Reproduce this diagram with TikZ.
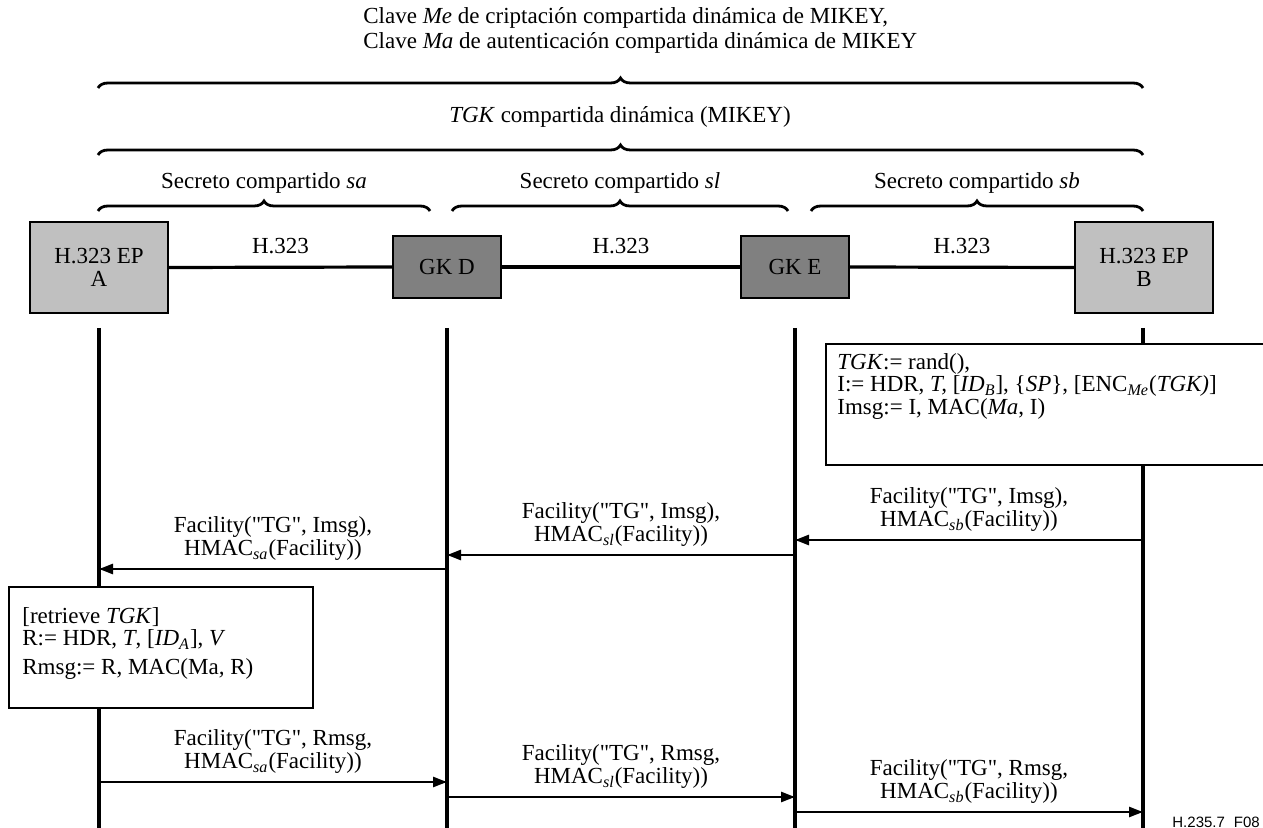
\documentclass[tikz,border=0pt]{standalone}
\usepackage{fontspec}
\setmainfont{Liberation Serif}
\newfontfamily\plainserif{Liberation Serif}
\newfontfamily\figsans{Liberation Sans}
\usetikzlibrary{decorations.pathreplacing,arrows.meta}
\definecolor{epgray}{RGB}{192,192,192}
\definecolor{gkgray}{RGB}{128,128,128}
\newcommand{\sub}[1]{\textsubscript{\textit{#1}}}
\newcommand{\dq}{{\plainserif"}}
\begin{document}
\begin{tikzpicture}[x=0.5pt,y=-0.5pt,
  font=\fontsize{11.5}{11.5}\selectfont,
  ep/.style={draw, line width=1pt, fill=epgray, minimum width=69pt, minimum height=45.5pt, align=center, inner sep=0pt},
  gk/.style={draw, line width=1pt, fill=gkgray, minimum width=54pt, minimum height=31pt, inner sep=0pt},
  conn/.style={line width=1.6pt},
  life/.style={line width=1.6pt},
  msg/.style={line width=1.3pt, -{Triangle[length=7pt,width=5pt]}},
  lbl/.style={align=center, inner sep=0pt},
  br/.style={decorate, decoration={brace, amplitude=5pt}, line width=1.4pt},
  notebox/.style={draw, line width=1pt, fill=white, inner sep=0pt, anchor=north west},
  notetext/.style={align=left, inner sep=0pt, anchor=north west, font=\fontsize{11.5}{11.3}\selectfont}]
\useasboundingbox (0,0) rectangle (1263,828);
\fill[white] (0,0) rectangle (1263,828);

% top texts and braces
\node[anchor=west, align=left, inner sep=0pt, font=\fontsize{11.5}{12.5}\selectfont] (clave) at (363,30)
  {Clave \textit{Me} de criptación compartida dinámica de MIKEY,\\
   Clave \textit{Ma} de autenticación compartida dinámica de MIKEY};
\draw[br] (98,88) -- (1143,88);
\node[inner sep=0pt] (tgkt) at (620,117) {\textit{TGK} compartida dinámica (MIKEY)};
\draw[br] (98,155) -- (1143,155);
\node[inner sep=0pt] (ssa) at (264,183) {Secreto compartido \textit{sa}};
\node[inner sep=0pt] (ssl) at (620,183) {Secreto compartido \textit{sl}};
\node[inner sep=0pt] (ssb) at (977,183) {Secreto compartido \textit{sb}};
\draw[br] (98,211) -- (430,211);
\draw[br] (452,211) -- (788,211);
\draw[br] (811,211) -- (1143,211);

% entities
\node[ep] (EPA) at (99,267.5) {H.323 EP\\A};
\node[gk] (GKD) at (447,267) {GK D};
\node[gk] (GKE) at (795,267) {GK E};
\node[ep] (EPB) at (1144,267.5) {H.323 EP\\B};
\draw[conn] (EPA.east) -- (GKD.west) node[midway, above=6pt, inner sep=0pt] {H.323};
\draw[conn] (GKD.east) -- (GKE.west) node[midway, above=6pt, inner sep=0pt] {H.323};
\draw[conn] (GKE.east) -- (EPB.west) node[midway, above=6pt, inner sep=0pt] {H.323};

% lifelines
\coordinate (At) at (99,328);   \coordinate (Ab) at (99,828);
\coordinate (Dt) at (447,328);  \coordinate (Db) at (447,828);
\coordinate (Et) at (795,328);  \coordinate (Eb) at (795,828);
\coordinate (Bt) at (1143,328); \coordinate (Bb) at (1143,828);
\draw[life] (At) -- (Ab);
\draw[life] (Dt) -- (Db);
\draw[life] (Et) -- (Eb);
\draw[life] (Bt) -- (Bb);

% TGK box
\node[notebox, minimum width=225pt, minimum height=60.5pt] (tgkbox) at (825,343) {};
\node[notetext] (tgktext) at ([xshift=6pt,yshift=-5pt]tgkbox.north west)
  {\textit{TGK}:= rand(),\\
   I:= HDR, \textit{T,} [\textit{ID}\sub{B}], \{\textit{SP}\}, [ENC\sub{Me}(\textit{TGK)}]\\
   Imsg:= I, MAC(\textit{Ma}, I)};

% messages Imsg
\coordinate (B1) at (1143,540); \coordinate (E1) at (795,540);
\coordinate (E2) at (795,555);  \coordinate (D2) at (447,555);
\coordinate (D3) at (447,569);  \coordinate (A3) at (99,569);
\draw[msg] (B1) -- (E1) node[midway, lbl, above=3.5pt] {Facility(\dq TG\dq, Imsg),\\HMAC\sub{sb}(Facility))};
\draw[msg] (E2) -- (D2) node[midway, lbl, above=3.5pt] {Facility(\dq TG\dq, Imsg),\\HMAC\sub{sl}(Facility))};
\draw[msg] (D3) -- (A3) node[midway, lbl, above=3.5pt] {Facility(\dq TG\dq, Imsg),\\HMAC\sub{sa}(Facility))};

% retrieve box
\node[notebox, minimum width=152pt, minimum height=60.5pt] (retbox) at (8,586) {};
\node[notetext] (rettext) at ([xshift=7pt,yshift=-10.5pt]retbox.north west)
  {[retrieve \textit{TGK}]\\
   R:= HDR, \textit{T}, [\textit{ID}\sub{A}], \textit{V}\\[3pt]
   Rmsg:= R, MAC(Ma\textit{,} R)};

% messages Rmsg
\coordinate (A4) at (99,782);  \coordinate (D4) at (447,782);
\coordinate (D5) at (447,797); \coordinate (E5) at (795,797);
\coordinate (E6) at (795,812); \coordinate (B6) at (1143,812);
\draw[msg] (A4) -- (D4) node[midway, lbl, above=3.5pt] {Facility(\dq TG\dq, Rmsg,\\HMAC\sub{sa}(Facility))};
\draw[msg] (D5) -- (E5) node[midway, lbl, above=3.5pt] {Facility(\dq TG\dq, Rmsg,\\HMAC\sub{sl}(Facility))};
\draw[msg] (E6) -- (B6) node[midway, lbl, above=3.5pt] {Facility(\dq TG\dq, Rmsg,\\HMAC\sub{sb}(Facility))};

\node[anchor=west, inner sep=0pt, font=\figsans\fontsize{7.5}{8}\selectfont] (figid) at (1172,822) {H.235.7\hspace{0.6em}F08};
\end{tikzpicture}
\end{document}
